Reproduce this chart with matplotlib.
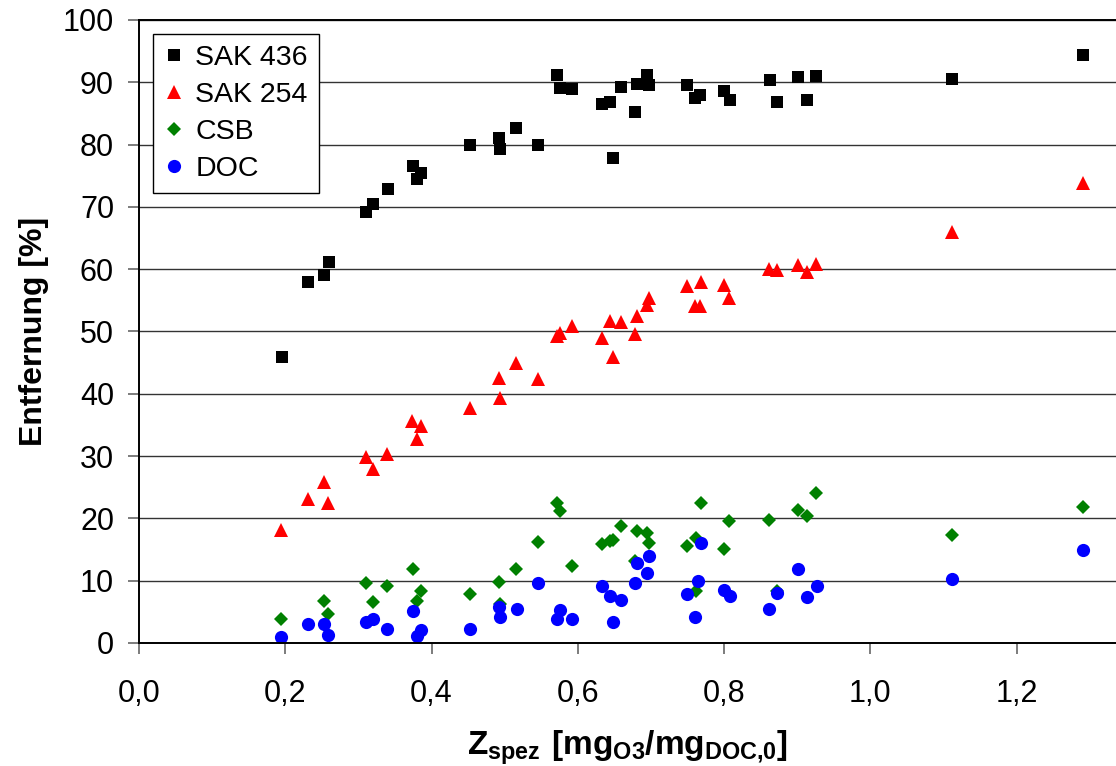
import numpy as np
import matplotlib
matplotlib.use("Agg")
import matplotlib.pyplot as plt

# SAK 436 (black squares)
x_sak436 = [0.195, 0.2305, 0.253, 0.260, 0.311, 0.320, 0.340, 0.374, 0.380, 0.385,
            0.453, 0.4916, 0.493, 0.516, 0.546, 0.572, 0.576, 0.592, 0.633, 0.644,
            0.648, 0.659, 0.678, 0.681, 0.694, 0.698, 0.7495, 0.760, 0.7667, 0.800,
            0.8075, 0.863, 0.8726, 0.901, 0.914, 0.926, 1.112, 1.291]
y_sak436 = [45.9, 58.0, 59.1, 61.2, 69.1, 70.5, 72.9, 76.5, 74.4, 75.5,
            80.0, 81.1, 79.3, 82.6, 79.9, 91.2, 89.1, 88.9, 86.5, 86.9,
            77.8, 89.2, 85.2, 89.7, 91.1, 89.6, 89.6, 87.5, 87.9, 88.6,
            87.2, 90.4, 86.8, 90.9, 87.1, 91.0, 90.6, 94.4]

# SAK 254 (red triangles)
x_sak254 = [0.194, 0.2305, 0.253, 0.259, 0.311, 0.320, 0.339, 0.373, 0.380, 0.385,
            0.452, 0.4916, 0.493, 0.516, 0.546, 0.572, 0.576, 0.592, 0.633, 0.644,
            0.648, 0.659, 0.678, 0.681, 0.694, 0.698, 0.7495, 0.760, 0.7667, 0.768,
            0.7995, 0.807, 0.862, 0.8726, 0.9005, 0.914, 0.926, 1.112, 1.291]
y_sak254 = [18.1, 23.1, 25.9, 22.5, 29.8, 27.9, 30.3, 35.6, 32.8, 34.9,
            37.7, 42.5, 39.3, 45.0, 42.3, 49.2, 49.8, 50.9, 49.0, 51.7,
            45.9, 51.5, 49.6, 52.5, 54.3, 55.3, 57.3, 54.1, 54.1, 58.0,
            57.5, 55.3, 60.0, 59.8, 60.6, 59.6, 60.9, 66.0, 73.8]

# CSB (green diamonds)
x_csb = [0.194, 0.253, 0.259, 0.311, 0.320, 0.339, 0.374, 0.380, 0.385, 0.452,
         0.4916, 0.493, 0.516, 0.546, 0.572, 0.576, 0.592, 0.633, 0.644, 0.648,
         0.659, 0.678, 0.681, 0.694, 0.698, 0.7495, 0.761, 0.761, 0.768, 0.7995,
         0.807, 0.862, 0.8726, 0.9005, 0.914, 0.926, 1.112, 1.291]
y_csb = [3.8, 6.7, 4.6, 9.6, 6.5, 9.2, 11.9, 6.7, 8.4, 7.8,
         9.8, 6.3, 11.8, 16.2, 22.5, 21.2, 12.3, 15.9, 16.3, 16.5,
         18.8, 13.2, 18.0, 17.6, 16.0, 15.6, 16.9, 8.3, 22.4, 15.1,
         19.6, 19.8, 8.4, 21.3, 20.4, 24.1, 17.4, 21.8]

# DOC (blue circles)
x_doc = [0.1945, 0.2305, 0.253, 0.259, 0.311, 0.320, 0.339, 0.374, 0.380, 0.385,
         0.452, 0.4916, 0.493, 0.5166, 0.546, 0.572, 0.576, 0.592, 0.633, 0.644,
         0.648, 0.659, 0.678, 0.681, 0.694, 0.698, 0.7495, 0.760, 0.764, 0.768,
         0.7995, 0.8075, 0.862, 0.8726, 0.9005, 0.914, 0.927, 1.112, 1.291]
y_doc = [0.9, 3.1, 3.0, 1.3, 3.3, 3.9, 2.2, 5.2, 1.1, 2.1,
         2.2, 5.7, 4.1, 5.4, 9.7, 3.9, 5.3, 3.9, 9.2, 7.5,
         3.4, 6.9, 9.6, 12.8, 11.2, 13.9, 7.8, 4.1, 9.9, 16.1,
         8.5, 7.6, 5.4, 8.0, 11.9, 7.4, 9.1, 10.3, 14.9]

xticks = [0.0, 0.2, 0.4, 0.6, 0.8, 1.0, 1.2]
xtick_labels = ["0,0", "0,2", "0,4", "0,6", "0,8", "1,0", "1,2"]
yticks = np.arange(0, 101, 10)

plt.rcParams['font.family'] = ['Liberation Sans', 'DejaVu Sans']
plt.rcParams['mathtext.fontset'] = 'custom'
plt.rcParams['mathtext.rm'] = 'Liberation Sans'
plt.rcParams['mathtext.bf'] = 'Liberation Sans:bold'

fig = plt.figure(figsize=(11.16, 7.66), dpi=100)
ax = fig.add_axes([0.1246, 0.1606, 0.8754, 0.8133])

ax.grid(True, axis='y', color='#333333', linewidth=1.0)
ax.set_axisbelow(True)

ax.plot(x_sak436, y_sak436, 's', color='black', ms=8, mew=0, label='SAK 436')
ax.plot(x_sak254, y_sak254, '^', color='#ff0000', ms=9.5, mew=0, label='SAK 254')
ax.plot(x_csb, y_csb, 'D', color='#008000', ms=7, mew=0, label='CSB')
ax.plot(x_doc, y_doc, 'o', color='#0000ff', ms=9.5, mew=0, label='DOC')

ax.set_xlim(0, 1.336)
ax.set_ylim(0, 100)
ax.set_xticks(xticks)
ax.set_xticklabels(xtick_labels)
ax.set_yticks(yticks)

ax.tick_params(axis='both', labelsize=22, direction='out', length=8, width=1.2,
               color='#666666')
ax.tick_params(axis='x', pad=18)
ax.tick_params(axis='y', pad=10)

for s in ['left', 'bottom', 'top']:
    ax.spines[s].set_linewidth(1.4)
    ax.spines[s].set_color('black')
ax.spines['right'].set_visible(False)

ax.set_ylabel('Entfernung [%]', fontsize=23, fontweight='bold', labelpad=10)
ax.set_xlabel(r'$\mathbf{Z_{spez}\ [mg_{O3}/mg_{DOC{,}0}]}$', fontsize=24, labelpad=14)

leg = ax.legend(loc='upper left', bbox_to_anchor=(0.014, 0.978), borderaxespad=0,
                fontsize=20.5, handlelength=0.7, handletextpad=0.4,
                labelspacing=0.38, borderpad=0.4, fancybox=False,
                framealpha=1, edgecolor='black')
leg.get_frame().set_linewidth(1.0)

plt.savefig('out.png', dpi=100)
